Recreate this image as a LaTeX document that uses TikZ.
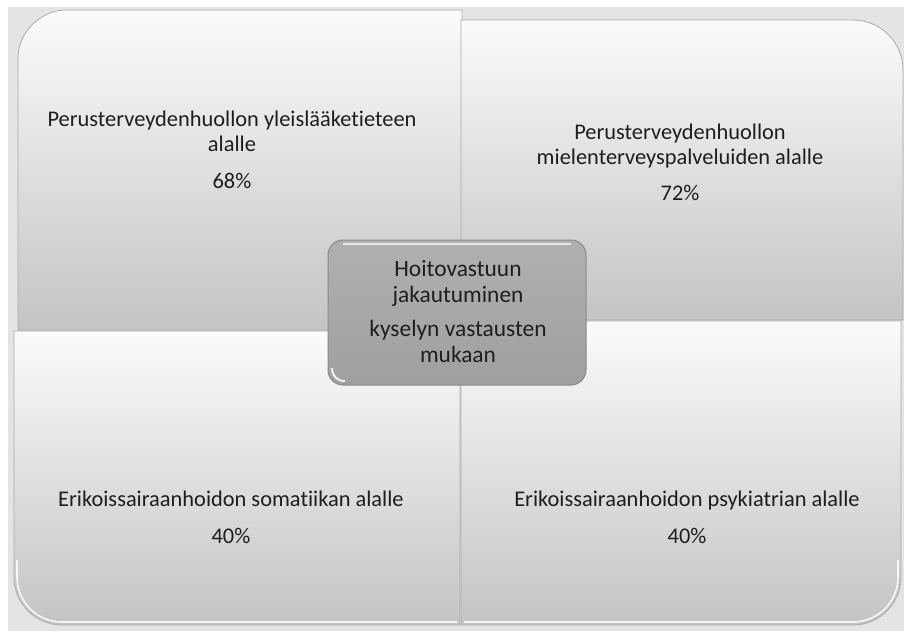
\documentclass[tikz,border=0pt]{standalone}
\usepackage{fontspec}
\setmainfont[RawFeature={-liga;-dlig}]{Carlito}
\usetikzlibrary{shadings}
\definecolor{bggray}{HTML}{E4E4E4}
\definecolor{boxtop}{HTML}{FBFBFB}
\definecolor{boxbot}{HTML}{C4C4C4}
\definecolor{boxedge}{HTML}{ABABAB}
\definecolor{midtop}{HTML}{B0B0B0}
\definecolor{midbot}{HTML}{A0A0A0}
\definecolor{midedge}{HTML}{8A8A8A}
\definecolor{txt}{HTML}{1E1E1E}
\tikzset{
  quad/.style={top color=boxtop, bottom color=boxbot, draw=boxedge, line width=0.8pt},
  hilite/.style={draw=white, line width=1.6pt, opacity=0.85},
  lbl/.style={align=center, text=txt, font=\fontsize{22.4}{25}\selectfont, inner sep=0pt},
  clbl/.style={lbl, font=\fontsize{23.4}{26}\selectfont},
  midbox/.style={top color=midtop, bottom color=midbot, draw=midedge, line width=1pt, rounded corners=15pt}
}
\begin{document}
\begin{tikzpicture}[x=1pt,y=-1pt]
\useasboundingbox (0,0) rectangle (904,631);
\fill[white] (0,0) rectangle (904,631);
\fill[bggray] (8,7) rectangle (904,631);
% top-left
\path[quad] (18,330) -- (18,58) .. controls (18,31.5) and (41.5,10) .. (66,10) -- (462,10) -- (462,330) -- cycle;
% top-right
\path[quad] (461,20) -- (853,20) .. controls (880.6,20) and (903,42.4) .. (903,70) -- (903,320) -- (461,320) -- cycle;
% bottom-left
\path[quad] (14,331) -- (460,331) -- (460,625) -- (62,625) .. controls (35.5,625) and (14,603.5) .. (14,577) -- cycle;
\path[hilite] (17,560) -- (17,577) .. controls (17,602) and (37,622) .. (62,622) -- (457,622);
% bottom-right
\path[quad] (461,321) -- (901,321) -- (901,577) .. controls (901,603.5) and (879.5,625) .. (853,625) -- (461,625) -- cycle;
\path[hilite] (464,622) -- (853,622) .. controls (878,622) and (898,602) .. (898,577) -- (898,560);
% centre
\path[midbox] (328,240) rectangle (586,385);
\path[draw=white, line width=1.6pt, opacity=0.7] (343,244) -- (571,244);
\path[draw=white, line width=2pt, opacity=0.85] (332,368) .. controls (332,376) and (337,381) .. (345,381);
% labels
\node[lbl] (tl) at (232,150) {Perusterveydenhuollon yleislääketieteen\\alalle\\[12pt]68\%};
\node[lbl] (tr) at (680,162) {Perusterveydenhuollon\\mielenterveyspalveluiden alalle\\[11pt]72\%};
\node[lbl] (bl) at (231,517) {Erikoissairaanhoidon somatiikan alalle\\[12pt]40\%};
\node[lbl] (br) at (687,517) {Erikoissairaanhoidon psykiatrian alalle\\[12pt]40\%};
\node[clbl] (c) at (458,312) {Hoitovastuun\\jakautuminen\\[8pt]kyselyn vastausten\\mukaan};
\end{tikzpicture}
\end{document}
